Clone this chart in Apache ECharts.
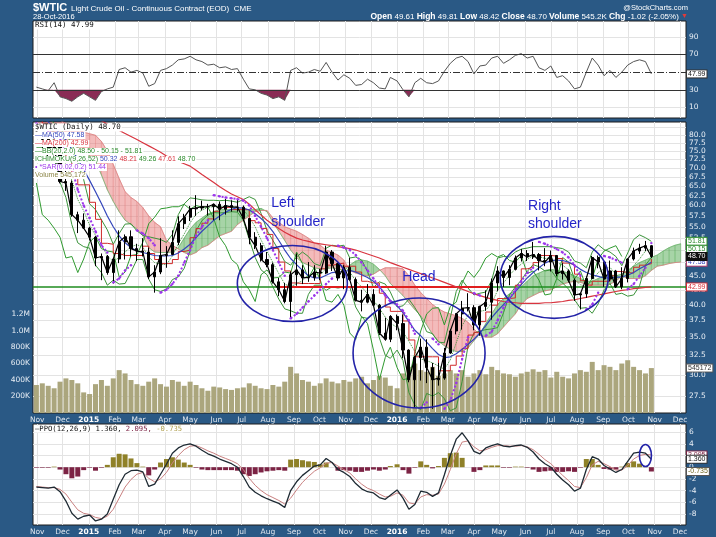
<!DOCTYPE html>
<html><head><meta charset="utf-8">
<script src="https://cdn.jsdelivr.net/npm/echarts@6.0.0/dist/echarts.min.js"></script>
<style>html,body{margin:0;padding:0;background:#2a5985;}#chart{width:716px;height:537px;}</style>
</head><body><div id="chart"></div>
<script>
// ---------- categories / ticks ----------
const weekDates = [
'2014-10-31','2014-11-07','2014-11-14','2014-11-21','2014-11-28','2014-12-05','2014-12-12','2014-12-19','2014-12-26',
'2015-01-02','2015-01-09','2015-01-16','2015-01-23','2015-01-30','2015-02-06','2015-02-13','2015-02-20','2015-02-27',
'2015-03-06','2015-03-13','2015-03-20','2015-03-27','2015-04-03','2015-04-10','2015-04-17','2015-04-24','2015-05-01',
'2015-05-08','2015-05-15','2015-05-22','2015-05-29','2015-06-05','2015-06-12','2015-06-19','2015-06-26','2015-07-03',
'2015-07-10','2015-07-17','2015-07-24','2015-07-31','2015-08-07','2015-08-14','2015-08-21','2015-08-28','2015-09-04',
'2015-09-11','2015-09-18','2015-09-25','2015-10-02','2015-10-09','2015-10-16','2015-10-23','2015-10-30','2015-11-06',
'2015-11-13','2015-11-20','2015-11-27','2015-12-04','2015-12-11','2015-12-18','2015-12-24','2016-01-01','2016-01-08',
'2016-01-15','2016-01-22','2016-01-29','2016-02-05','2016-02-12','2016-02-19','2016-02-26','2016-03-04','2016-03-11',
'2016-03-18','2016-03-25','2016-04-01','2016-04-08','2016-04-15','2016-04-22','2016-04-29','2016-05-06','2016-05-13',
'2016-05-20','2016-05-27','2016-06-03','2016-06-10','2016-06-17','2016-06-24','2016-07-01','2016-07-08','2016-07-15',
'2016-07-22','2016-07-29','2016-08-05','2016-08-12','2016-08-19','2016-08-26','2016-09-02','2016-09-09','2016-09-16',
'2016-09-23','2016-09-30','2016-10-07','2016-10-14','2016-10-21','2016-10-28',
'2016-11-04','2016-11-11','2016-11-18','2016-11-25','2016-12-02'];
const xRange = ['2014-10-27','2016-12-08'];
const monthTicks = ['2014-11-01','2014-12-01','2015-01-01','2015-02-01','2015-03-01','2015-04-01','2015-05-01','2015-06-01','2015-07-01','2015-08-01','2015-09-01','2015-10-01','2015-11-01','2015-12-01','2016-01-01','2016-02-01','2016-03-01','2016-04-01','2016-05-01','2016-06-01','2016-07-01','2016-08-01','2016-09-01','2016-10-01','2016-11-01','2016-12-01'];
const monthLabels = ['Nov','Dec','2015','Feb','Mar','Apr','May','Jun','Jul','Aug','Sep','Oct','Nov','Dec','2016','Feb','Mar','Apr','May','Jun','Jul','Aug','Sep','Oct','Nov','Dec'];
const priceTicks = [27.5,30,32.5,35,37.5,40,42.5,45,47.5,50,52.5,55,57.5,60,62.5,65,67.5,70,72.5,75,77.5,80,82.5];
const priceRange = [25.66, 84.46];
const volumeTicks = [200,400,600,800,1000,1200];
const volumeMax = 3530;
const rsiTicks = [10,30,70,90];
const ppoTicks = [-8,-6,-4,-2,0,2,4,6];
const ppoRange = [-9.9, 7.4];

// ---------- price (weekly OHLC) ----------
const opens = [81.1,80.5,78.7,75.8,76.5,66.2,65.8,57.8,56.5, 54.7,52.7,48.4,48.7,45.6,48.2,51.7,52.8,50.3, 49.8,49.6,44.8,45.7,48.9,49.1,51.6,55.7,57.2, 59.2,59.4,59.7,59.7,60.3,59.1,60.0,59.6,59.6, 56.9,52.7,50.9,48.1,47.1,43.9,42.5,40.5,45.2, 46.1,44.6,44.7,45.7,45.5,49.6,47.3,44.6,46.6, 44.3,40.7,40.4,41.7,39.9,35.6,34.7,38.1,37.0, 33.2,29.4,32.2,33.6,30.9,29.4,29.6,32.8,35.9, 38.5,39.4,39.5,36.8,39.7,40.4,43.7,45.9,44.7, 46.2,48.4,49.3,48.6,49.1,47.9,47.6,48.9,45.4, 45.9,44.2,41.6,41.8,44.5,48.5,47.6,44.4,45.9, 43.0,44.5,48.2,49.8,50.4,50.9];
const closes = [80.5,78.7,75.8,76.5,66.2,65.8,57.8,56.5,54.7, 52.7,48.4,48.7,45.6,48.2,51.7,52.8,50.3,49.8, 49.6,44.8,45.7,48.9,49.1,51.6,55.7,57.2,59.2, 59.4,59.7,59.7,60.3,59.1,60.0,59.6,59.6,56.9, 52.7,50.9,48.1,47.1,43.9,42.5,40.5,45.2,46.1, 44.6,44.7,45.7,45.5,49.6,47.3,44.6,46.6,44.3, 40.7,40.4,41.7,39.9,35.6,34.7,38.1,37.0,33.2, 29.4,32.2,33.6,30.9,29.4,29.6,32.8,35.9,38.5, 39.4,39.5,36.8,39.7,40.4,43.7,45.9,44.7,46.2, 48.4,49.3,48.6,49.1,47.9,47.6,48.9,45.4,45.9, 44.2,41.6,41.8,44.5,48.5,47.6,44.4,45.9,43.0, 44.5,48.2,49.8,50.4,50.9,48.7];
const lows = [79.5,75.8,73.3,73.7,65.7,63.7,57.3,53.6,54.5, 52.0,46.8,44.2,45.2,43.6,47.4,48.1,48.7,47.8, 48.7,44.4,42.0,45.3,46.5,49.0,51.0,54.5,56.3, 57.5,58.8,57.6,56.5,56.5,57.8,58.5,58.5,56.3, 51.2,50.2,47.7,46.6,43.6,41.4,40.2,37.8,43.2, 43.5,43.9,44.1,44.2,45.3,45.9,44.1,42.6,44.1, 40.5,38.9,40.2,39.7,35.3,34.5,34.3,36.0,32.1, 29.1,26.2,29.3,29.0,26.1,28.7,29.4,32.7,35.4, 36.1,38.9,36.0,35.2,39.0,37.6,42.3,43.0,43.3, 46.0,47.7,47.8,48.2,46.0,46.8,45.8,44.9,44.3, 43.8,40.6,39.2,41.1,44.4,46.4,43.0,44.0,42.8, 42.6,43.8,47.9,49.2,49.8,48.4];
const highs = [82.0,80.8,78.9,77.0,76.9,69.5,66.5,58.5,58.1, 55.0,53.0,49.3,49.0,48.3,54.2,53.3,54.2,51.3, 52.5,50.5,47.0,52.5,50.8,54.2,57.4,58.0,59.9, 62.6,61.2,60.4,60.5,61.0,61.6,61.3,61.5,60.0, 57.0,53.8,51.5,49.6,47.5,44.6,43.7,45.8,49.3, 47.0,47.6,47.0,46.3,50.9,50.0,47.5,47.0,48.4, 44.7,42.5,43.5,42.6,40.1,37.9,38.3,38.4,38.4, 33.3,32.4,34.8,34.7,31.5,31.5,33.5,36.2,38.6, 40.6,41.9,39.9,39.8,42.4,44.5,46.8,46.0,47.0, 48.9,50.2,50.0,51.7,49.4,50.4,49.9,49.0,47.4, 46.2,44.5,42.0,44.9,48.8,48.9,47.7,47.9,46.1, 46.6,48.3,50.5,51.3,51.9,51.0];
const volumeK = [340,360,330,300,380,420,400,360,250, 230,350,400,330,420,520,480,400,350, 330,380,420,350,320,400,380,330,380, 340,300,270,320,310,290,280,300,310, 360,330,300,290,340,320,380,560,480, 400,380,330,360,420,380,360,400,380, 420,440,360,400,450,430,330,300,480, 560,600,520,500,560,450,480,520,480, 520,440,480,520,470,560,520,480,470, 440,480,500,530,500,520,430,500,440, 420,480,520,500,620,520,580,560,520, 600,640,560,520,480,545];

// ---------- overlays ----------
const ma50 = [87.5,86,84.5,82.5,80.5,78.5,75.5,72.5,69.5, 66.5,63.5,60.5,57.5,55.0,53.0,51.5,50.5,49.8, 49.5,49.2,48.9,48.8,48.8,48.9,49.4,50.2,51.2, 52.6,54.0,55.2,56.5,57.5,58.4,59.1,59.5,59.4, 58.9,58.0,56.9,55.6,53.9,52.0,50.0,48.3,47.1, 46.0,45.0,44.6,44.6,45.1,45.6,45.7,45.8,46.0, 45.7,45.2,44.7,44.0,43.0,41.8,40.7,39.8,38.7, 37.3,36.0,35.2,34.3,33.4,32.6,32.2,32.3,32.7, 33.3,34.0,34.7,35.6,36.7,37.9,39.0,40.0,41.0, 42.2,43.4,44.6,45.6,46.5,47.4,47.9,48.0,47.9, 47.6,47.0,46.2,45.6,45.2,44.9,44.6,44.6,44.7, 44.8,45.1,45.6,46.3,46.9,47.58];
const ma200 = [95,94.5,93.8,93,92.2,91.3,90.3,89.3,88.2, 87.1,86.0,84.9,83.8,82.6,81.6,80.6,79.6,78.6, 77.6,76.6,75.6,74.6,73.5,72.7,71.9,71.2,70.5, 69.3,68.1,67.0,65.9,64.8,63.8,62.9,62.2,61.5, 60.3,59.0,57.7,56.5,55.5,54.6,53.8,53.1,52.5, 52.1,51.8,51.5,51.3,51.1,50.9,50.7,50.5,50.3, 50.0,49.6,49.2,48.8,48.4,47.9,47.5,47.0,46.6, 46.2,45.8,45.4,45.0,44.6,44.2,43.8,43.4,43.0, 42.6,42.2,41.8,41.5,41.2,40.9,40.7,40.5,40.4, 40.3,40.2,40.2,40.2,40.2,40.3,40.3,40.4,40.5, 40.7,40.8,41.0,41.2,41.4,41.6,41.8,42.0,42.2, 42.4,42.5,42.7,42.8,42.9,42.99];
const bbUpper = [90,88,86,84,82,80,77.5,71.5,66.7, 60.4,59,56.6,54.3,51.2,53.5,55.6,55.7,54.1, 53.1,52.8,52.5,52.2,51.6,53.3,57.8,60.4,61.9, 61.7,61.4,61.3,61.3,61.2,61.3,61.1,60.8,61.5, 62.2,61.5,58.1,54.2,52,49.9,47.7,47,48.6, 49.6,48.7,47.3,46.9,50.4,51,50.8,51,48.4, 48.6,48,45.8,42.9,43.9,43.5,42.1,39.6,39.8, 40.9,39.5,38,35.8,35.5,34.3,34.2,37.9,42.2, 44.2,42.8,41.6,41.9,42.1,44.2,48.4,48.7,48.6, 49.6,50.2,50.4,50.7,50.7,50.7,50.7,50.5,50.3, 49.6,47.8,47.4,46.5,49.6,51.1,50.1,49.6,48.7, 46.9,49.4,52.2,53.2,52.6,51.81];
const bbMid = [83,82,79.5,78.5,74,71,66.5,61.5,58.7, 55.4,53.1,51.1,48.8,47.7,48.5,49.6,50.7,51.1, 50.6,48.6,47.5,47.2,47.1,48.8,51.3,53.4,55.9, 57.9,58.9,59.5,59.8,59.7,59.8,59.8,59.6,59.0, 57.2,55.0,52.1,49.7,47.5,45.4,43.5,43.0,43.6, 44.1,45.2,45.3,45.1,46.4,47.0,46.8,47.0,45.7, 44.1,43.0,41.8,40.7,39.4,38.0,37.1,36.4,35.8, 34.4,33.0,32.0,31.8,31.5,31.1,30.7,31.9,34.2, 36.7,38.3,38.6,38.9,39.1,40.2,42.4,43.7,45.1, 46.3,47.2,48.1,48.9,48.7,48.3,48.4,47.5,47.0, 46.1,44.3,43.4,43.0,44.1,45.6,46.3,46.6,45.2, 44.4,45.4,46.9,48.2,49.8,50.15];
const bbLower = [76,76,73,73,66,62,55.5,51.5,50.7, 50.4,47,45.6,43.3,44.2,43.5,43.6,45.7,48.1, 48.1,44.4,42.5,42.2,42.6,44.3,44.8,46.4,49.9, 54.1,56.4,57.7,58.3,58.2,58.3,58.5,58.4,56.5, 52.2,48.5,46.1,45.2,43,40.9,39.3,39,38.6, 38.6,41.7,43.3,43.3,42.4,43,42.8,43,43, 39.6,38,37.8,38.5,34.9,32.5,32.1,33.2,31.8, 27.9,26.5,26,27.8,27.5,27.9,27.2,25.9,26.2, 29.2,33.8,35.6,35.9,36.1,36.2,36.4,38.7,41.6, 43,44.2,45.8,47.1,46.7,45.9,46.1,44.5,43.7, 42.6,40.8,39.4,39.5,38.6,40.1,42.5,43.6,41.7, 41.9,41.4,41.6,43.2,47,48.50];
const kijun = [85,84,81,78,74,72.3,68,65.3,65.3, 60.8,56.7,51.4,51.2,49.3,48.9,48.9,48.9,48.9, 50.8,49.3,48.1,47.3,47.3,48.1,49.7,50,52.6, 54.6,55.8,56.8,58.6,59.5,59.6,59,59,59, 56.4,55.9,54.6,53.3,50.3,47.6,45.9,43.7,43.6, 43.6,43.6,43.6,46.3,47,47.2,47.4,46.8,46.8, 45.7,44,43.7,43.7,41.9,39.6,38.9,38.9,37.4, 34.6,32.3,32.3,32.3,32.3,30.5,30.5,31.2,32.4, 33.4,35.3,35.7,37.3,38.8,39.9,41,41,41.1, 43.3,46.3,46.6,47.5,48.9,48.9,48.8,48.3,47.4, 47.1,45.3,44.1,43.3,44,44,44,45,45.8, 45.6,45.5,46.6,47,47.3,48.21];
const spanA = [84,83,82,81,80,78,77,76,75, 73.5,72,68,64,61,58.5,56.5,55.5,54.5, 53,50.5,49.6,49.5,49.5,49.6,50.5,52.5,54.5, 56,57,58,58.5,59,59,59,59,59, 59,59,59.3,58.5,56,54,52,50,48.5, 47.5,47,46.5,46.3,46.3,46.5,46.3,46.0,47.0, 47.8,48.0,47.8,47.2,46.2,45.0,43.6,42.5,41.5, 40.3,39.2,38.2,36.8,35.4,34.4,33.8,33.3,33.0, 33.0,33.5,34.5,35.5,37.0,38.5,40.0,41.0,41.8, 42.3,43.0,44.0,45.0,45.5,46.0,46.2,46.0,45.8, 45.5,45.0,44.5,44.0,44.0,44.5,45.0,45.2,45.0, 45.3,46.0,46.8,47.5,48.0,48.5, 49.0,49.8,50.5,51.0,51.3];
const spanB = [88,88,87,86,85,84,83,82,81, 80.5,80,78,75,71,67,63.5,62,61, 59.5,57.5,56,55,52,51,50.2,49.5,49, 49.5,50.5,51,52,53,53.5,54,55.5,56.5, 57.5,58.5,58.8,58.8,57,56,55,54.5,54, 53.3,52.5,51.5,51,50,49.5,49,48,46.0, 45.5,45.2,45.0,45.3,46.0,46.5,46.5,46.5,46.3, 45.0,43.3,42.0,41.0,40.0,39.3,38.8,38.5,38.2, 37.8,37.2,36.2,35.3,35.0,35.0,35.5,36.5,37.5, 38.5,40.0,41.0,41.5,42.0,42.3,42.5,43.0,43.5, 43.8,44.0,43.8,43.5,43.3,43.3,43.3,43.5,44.0, 45.0,44.5,44.5,44.5,45.0,46.0, 46.8,47.0,47.3,47.5,47.6];
const sar = [84,83,81.5,80,79,75,70,64,60, 57,54,51,49.5,43.8,44.5,46,47,54.2, 53.5,52.5,51,42.0,42.5,43.5,45,47.5,50, 53,55,56.5,62.6,62.3,62.0,61.8,61.6,61.2, 60,57.5,55,52.5,50,47.5,45,37.8,38.5, 39.5,40.5,41.5,42.5,43.5,44.5,50.9,50.5,50, 49,47.5,46,44.5,43,41.5,40.5,40,39, 37.5,35.5,26.2,26.8,34.8,34,26.1,27,29, 32,35,41.9,41.5,35.2,35.8,37.5,39.5,41, 42.5,44,45.5,46.5,51.7,51.3,50.8,50.2,49.5, 48.5,47,45,39.2,40,42,48.8,48.5,48, 47.5,42.6,43.5,45,46.5,51.44];
const necklineLevel = 43.0;
const redLineDates = ['2015-08-15','2016-04-20'];
const chikouShiftWeeks = 5;

// ---------- indicators ----------
const rsi = [33,31,29,38,22,20,17,22,26, 22,18,28,31,33,53,55,50,52, 49,34,37,52,54,58,64,65,68, 64,62,58,59,55,56,53,54,42, 31,30,26,24,20,22,18,52,55, 49,50,53,51,61,50,41,47,43, 35,36,42,38,32,31,44,40,30, 22,38,43,38,37,40,51,60,66, 68,62,48,57,58,66,68,60,64, 69,71,66,68,55,52,57,44,46, 40,31,33,50,66,58,46,52,44, 50,58,62,64,62,47.99];
const ppo = [-3.4,-3.5,-3.6,-3.4,-4.2,-5.8,-7.9,-8.9,-8.4, -8.2,-9.2,-8.9,-8.0,-5.5,-3.0,-1.2,-0.6,-0.5, -0.8,-3.3,-2.9,-1.2,0.5,2.4,3.3,3.8,4.0, 3.6,2.9,2.3,1.9,1.4,1.0,0.6,0.0,-1.6, -3.4,-4.3,-4.9,-5.4,-5.8,-6.2,-6.9,-4.0,-2.5, -1.4,-0.6,0.2,0.4,1.5,0.8,-0.4,-0.9,-1.6, -2.8,-3.7,-4.2,-4.4,-5.2,-5.5,-4.8,-3.9,-5.3, -7.2,-6.4,-4.1,-4.3,-5.0,-4.4,-1.3,2.0,4.8, 5.9,4.5,2.7,2.3,3.3,3.7,4.0,3.6,3.5, 3.7,3.8,3.4,2.6,1.4,0.6,0.0,-1.2,-2.2, -3.0,-4.1,-3.6,-0.4,1.8,1.4,0.3,-0.3,-0.9, -0.4,1.0,2.4,2.6,2.4,1.36];
const ppoSignal = [-3.3,-3.4,-3.5,-3.5,-3.8,-4.6,-6.0,-7.3,-7.9, -8.1,-8.6,-8.8,-8.4,-7.2,-5.3,-3.4,-2.1,-1.2, -0.9,-1.9,-2.5,-2.0,-0.9,0.7,2.0,3.0,3.6, 3.7,3.3,2.8,2.4,1.9,1.5,1.1,0.6,-0.4, -1.9,-3.1,-4.0,-4.7,-5.2,-5.7,-6.3,-5.3,-3.9, -2.6,-1.6,-0.7,-0.1,0.7,0.8,0.2,-0.4,-1.0, -2.0,-2.9,-3.6,-4.0,-4.6,-5.1,-5.0,-4.4,-4.8, -6.1,-6.3,-5.1,-4.7,-4.8,-4.6,-2.9,-0.4,2.3, 4.3,4.5,3.5,2.8,3.0,3.4,3.7,3.7,3.6, 3.6,3.7,3.5,3.0,2.2,1.3,0.6,-0.4,-1.4, -2.3,-3.3,-3.5,-1.8,0.4,1.0,0.6,0.1,-0.5, -0.5,0.3,1.4,2.0,2.2,2.095];
const ppoHist = [-0.1,-0.1,-0.1,0.1,-0.4,-1.2,-1.9,-1.6,-0.5, -0.1,-0.6,-0.1,0.4,1.7,2.3,2.2,1.5,0.7, 0.1,-1.4,-0.4,0.8,1.4,1.7,1.3,0.8,0.4, -0.1,-0.4,-0.5,-0.5,-0.5,-0.5,-0.5,-0.6,-1.2, -1.5,-1.2,-0.9,-0.7,-0.6,-0.5,-0.6,1.3,1.4, 1.2,1.0,0.9,0.5,0.8,0.0,-0.6,-0.5,-0.6, -0.8,-0.8,-0.6,-0.4,-0.6,-0.4,0.2,0.5,-0.5, -1.1,-0.1,1.0,0.4,-0.2,0.2,1.6,2.4,2.5, 1.6,0.0,-0.8,-0.5,0.3,0.3,0.3,-0.1,-0.1, 0.1,0.1,-0.1,-0.4,-0.8,-0.7,-0.6,-0.8,-0.8, -0.7,-0.8,-0.1,1.4,1.4,0.4,-0.3,-0.4,-0.4, 0.1,0.7,1.0,0.6,0.2,-0.735];

// right-axis value markers [axis, value, text, textColor, bg, border]
const axisMarkers = [
  ['price', 51.81, '51.81', '#2b8a2b', '#ffffff', '#2b8a2b'],
  ['price', 50.15, '50.15', '#2b8a2b', '#ffffff', '#2b8a2b'],
  ['price', 47.58, '47.58', '#3344bb', '#ffffff', '#b04070'],
  ['price', 48.70, '48.70', '#ffffff', '#111111', '#111111'],
  ['price', 42.99, '42.99', '#d62b35', '#ffffff', '#d62b35'],
  ['volume', 545.172, '545172', '#333333', '#ffffff', '#555555'],
  ['rsi', 47.99, '47.99', '#111111', '#ffffff', '#333333'],
  ['ppo', 2.095, '2.095', '#7c2344', '#ffffff', '#7c2344'],
  ['ppo', 1.36, '1.360', '#111111', '#ffffff', '#333333'],
  ['ppo', -0.735, '-0.735', '#6e6420', '#ffffff', '#555555']
];
// annotations anchored in data space: [panel, date, value, rx, ry]
const ellipses = [
  ['price', '2015-08-30', 43.6, 55, 38],
  ['price', '2016-01-27', 32.8, 66, 55],
  ['price', '2016-07-05', 44.7, 54, 41],
  ['ppo', '2016-10-21', 2.0, 6, 11]
];
const notes = [
  ['2015-08-05', 60.5, 'Left'], ['2015-08-05', 56.0, 'shoulder'],
  ['2016-01-07', 44.7, 'Head'],
  ['2016-06-04', 59.9, 'Right'], ['2016-06-04', 55.5, 'shoulder']
];

// ---------- build ----------
const L = Math.log;
const tsOf = s => { const p = s.split('-').map(Number); return new Date(p[0], p[1]-1, p[2]).getTime(); };
const D = weekDates.map(tsOf);
const tickTs = monthTicks.map(tsOf);
const labelByTs = {}; tickTs.forEach((t,i) => { labelByTs[t] = monthLabels[i]; });
const xMin = tsOf(xRange[0]), xMax = tsOf(xRange[1]);
const pairs = (arr, f) => arr.map((v,i) => [D[i], f ? f(v, i) : v]);
const FONT = 'DejaVu Sans';
const gridLine = {show: true, lineStyle: {color: '#e3e3e3', width: 1}};

function makeX(gi, showLabel) {
  return {
    type: 'value', gridIndex: gi, min: xMin, max: xMax, scale: true,
    axisLine: {show: false},
    axisTick: {show: false, customValues: tickTs},
    splitLine: gridLine,
    axisLabel: {
      show: showLabel, customValues: tickTs, margin: 3, hideOverlap: false,
      color: '#dfe6ee', fontSize: 7.5, fontFamily: FONT,
      formatter: v => { const l = labelByTs[v] || ''; return /^\d{4}$/.test(l) ? '{y|' + l + '}' : l; },
      rich: {y: {fontWeight: 'bold', color: '#ffffff', fontSize: 7.5, fontFamily: FONT}}
    }
  };
}
function makeY(gi, pos, min, max, ticks, fmt, split) {
  return {
    type: 'value', gridIndex: gi, position: pos, min, max, scale: true,
    axisLine: {show: false},
    axisTick: {show: false, customValues: ticks},
    splitLine: split ? gridLine : {show: false},
    axisLabel: {customValues: ticks, margin: 3, color: '#e8eef5', fontSize: 7.5, fontFamily: FONT, formatter: fmt}
  };
}
const lineS = (name, xi, yi, data, color, width, extra) => Object.assign({
  type: 'line', name, xAxisIndex: xi, yAxisIndex: yi, data, showSymbol: false, silent: true,
  lineStyle: {color, width}, itemStyle: {color}, connectNulls: false
}, extra || {});

// cloud segments: [t0, A0, B0, t1, A1, B1] in ln space
const cloudSegs = [];
for (let i = 0; i + 1 < spanA.length; i++) {
  cloudSegs.push([D[i], L(spanA[i]), L(spanB[i]), D[i+1], L(spanA[i+1]), L(spanB[i+1])]);
}
const chikou = closes.slice(chikouShiftWeeks).map((v,i) => [D[i], L(v)]);
const sarAbove = sar.map((v,i) => [D[i], v > closes[i] ? L(v) : '-']);
const sarBelow = sar.map((v,i) => [D[i], v > closes[i] ? '-' : L(v)]);
const candles = opens.map((o,i) => [D[i], L(o), L(closes[i]), L(lows[i]), L(highs[i])]);

function renderCloud(params, api) {
  const t0 = api.value(0), a0 = api.value(1), b0 = api.value(2);
  const t1 = api.value(3), a1 = api.value(4), b1 = api.value(5);
  const pA0 = api.coord([t0, a0]), pB0 = api.coord([t0, b0]);
  const pA1 = api.coord([t1, a1]), pB1 = api.coord([t1, b1]);
  const green = (a0 + a1) >= (b0 + b1);
  const cs = params.coordSys;
  return {
    type: 'polygon',
    shape: {points: [pA0, pA1, pB1, pB0]},
    style: {fill: green ? 'rgba(80,170,80,0.5)' : 'rgba(232,120,120,0.5)', stroke: green ? 'rgba(80,170,80,0.5)' : 'rgba(232,120,120,0.5)', lineWidth: 0.5},
    clipPath: {type: 'rect', shape: {x: cs.x, y: cs.y, width: cs.width, height: cs.height}}
  };
}

const chart = echarts.init(document.getElementById('chart'), null, {renderer: 'canvas'});
const option = {
  animation: false,
  backgroundColor: '#2a5985',
  textStyle: {fontFamily: FONT},
  grid: [
    {left: 33, right: 30, top: 21, height: 97, show: true, backgroundColor: '#ffffff', borderColor: '#1c1c1c', borderWidth: 1},
    {left: 33, right: 30, top: 122, height: 291, show: true, backgroundColor: '#ffffff', borderColor: '#1c1c1c', borderWidth: 1},
    {left: 33, right: 30, top: 424, height: 101, show: true, backgroundColor: '#ffffff', borderColor: '#1c1c1c', borderWidth: 1}
  ],
  xAxis: [makeX(0, false), makeX(1, true), makeX(2, true)],
  yAxis: [
    makeY(0, 'right', -2, 108, rsiTicks, v => String(v), true),
    makeY(1, 'right', L(priceRange[0]), L(priceRange[1]), priceTicks.map(L), v => Math.exp(v).toFixed(1), true),
    makeY(1, 'left', 0, volumeMax, volumeTicks, v => v >= 1000 ? (v/1000).toFixed(1) + 'M' : v + 'K', false),
    makeY(2, 'right', ppoRange[0], ppoRange[1], ppoTicks, v => String(v), true)
  ],
  series: [
    {type: 'bar', name: 'Volume', xAxisIndex: 1, yAxisIndex: 2, data: pairs(volumeK), barWidth: 5, itemStyle: {color: '#aba67d'}, silent: true, z: 1},
    {type: 'custom', name: 'cloud', xAxisIndex: 1, yAxisIndex: 1, data: cloudSegs, renderItem: renderCloud, silent: true, z: 2,
     encode: {x: [0, 3], y: [1, 2, 4, 5]}},
    lineS('spanA', 1, 1, pairs(spanA, L), '#6fb46f', 0.8, {z: 3}),
    lineS('spanB', 1, 1, pairs(spanB, L), '#d98080', 0.8, {z: 3}),
    lineS('chikou', 1, 1, chikou, '#2f9a2f', 1, {z: 4}),
    lineS('bbUpper', 1, 1, pairs(bbUpper, L), '#3a933a', 1, {z: 4}),
    lineS('bbLower', 1, 1, pairs(bbLower, L), '#3a933a', 1, {z: 4}),
    lineS('bbMid', 1, 1, pairs(bbMid, L), '#3a933a', 1, {z: 4, lineStyle: {color: '#3a933a', width: 1, type: 'dotted'}}),
    lineS('ma200', 1, 1, pairs(ma200, L), '#d8343f', 1.2, {z: 5}),
    lineS('kijun', 1, 1, pairs(kijun, L), '#cf2a2a', 1, {z: 5, step: 'end'}),
    lineS('ma50', 1, 1, pairs(ma50, L), '#3445bb', 1.2, {z: 5}),
    {type: 'candlestick', name: 'price', xAxisIndex: 1, yAxisIndex: 1, data: candles, silent: true, z: 6,
     dimensions: ['t','open','close','lowest','highest'], encode: {x: 't', y: ['open','close','lowest','highest']},
     barWidth: 2.6, itemStyle: {color: '#000', color0: '#000', borderColor: '#000', borderColor0: '#000', borderWidth: 1}},
    lineS('close', 1, 1, pairs(closes, L), '#000000', 1.2, {z: 7,
      markLine: {silent: true, symbol: 'none', label: {show: false},
        data: [
          {yAxis: L(necklineLevel), lineStyle: {color: '#1f8c1f', width: 1.5, type: 'solid'}},
          [{coord: [tsOf(redLineDates[0]), L(necklineLevel)], lineStyle: {color: '#e01e1e', width: 2, type: 'solid'}},
           {coord: [tsOf(redLineDates[1]), L(necklineLevel)]}]
        ]}}),
    lineS('sarAbove', 1, 1, sarAbove, '#9b36ea', 2, {z: 8, showSymbol: true, symbol: 'circle', symbolSize: 2.4, lineStyle: {color: '#9b36ea', width: 2, type: 'dotted'}}),
    lineS('sarBelow', 1, 1, sarBelow, '#9b36ea', 2, {z: 8, showSymbol: true, symbol: 'circle', symbolSize: 2.4, lineStyle: {color: '#9b36ea', width: 2, type: 'dotted'}}),
    // RSI
    lineS('rsiOversold', 0, 0, pairs(rsi, v => Math.min(v, 30)), 'rgba(0,0,0,0)', 0, {lineStyle: {opacity: 0}, areaStyle: {origin: 30, color: '#8a2c55', opacity: 1}, z: 2}),
    lineS('rsi', 0, 0, pairs(rsi), '#555555', 1, {z: 4,
      markLine: {silent: true, symbol: 'none', label: {show: false},
        data: [
          {yAxis: 70, lineStyle: {color: '#333', width: 1, type: 'solid'}},
          {yAxis: 30, lineStyle: {color: '#333', width: 1, type: 'solid'}},
          {yAxis: 50, lineStyle: {color: '#333', width: 1, type: [7, 2, 1, 2]}}
        ]}}),
    // PPO
    {type: 'bar', name: 'ppoHist', xAxisIndex: 2, yAxisIndex: 3, barWidth: 5, silent: true, z: 2,
     data: ppoHist.map((v,i) => ({value: [D[i], v], itemStyle: {color: v >= 0 ? '#8f8128' : '#7c2344'}}))},
    lineS('ppoSignal', 2, 3, pairs(ppoSignal), '#c98080', 1, {z: 3}),
    lineS('ppo', 2, 3, pairs(ppo), '#1e2a33', 1.3, {z: 4})
  ]
};
chart.setOption(option);

// ---------- graphics (text, markers, annotations) ----------
const axisIdx = {rsi: [0, 0], price: [1, 1], volume: [1, 2], ppo: [2, 3]};
const toVal = (panel, v) => (panel === 'price' ? L(v) : v);
const g = [];
const txt = (x, y, text, style, z) => g.push({type: 'text', x, y, z: z || 100, silent: true,
  style: Object.assign({text, fill: '#ffffff', align: 'left', verticalAlign: 'middle', font: '8px "Liberation Sans"'}, style)});

// header
txt(33, 8, '$WTIC', {font: 'bold 11px "Liberation Sans"'});
txt(71, 8.5, 'Light Crude Oil - Continuous Contract (EOD)  CME', {font: '8px "Liberation Sans"'});
txt(33, 16.5, '28-Oct-2016', {font: '7.5px "Liberation Sans"'});
txt(688, 7.5, '@StockCharts.com', {align: 'right', font: '7.5px "Liberation Sans"'});
txt(688, 16.5, '{b|Open} 49.61 {b|High} 49.81 {b|Low} 48.42 {b|Close} 48.70 {b|Volume} 545.2K {b|Chg} -1.02 (-2.05%) {r|▼}',
  {align: 'right', font: '8px "Liberation Sans"', rich: {b: {font: 'bold 8.5px "Liberation Sans"', fill: '#ffffff'}, r: {fill: '#e03a3a', font: '7px "Liberation Sans"'}}});

// panel legends
const legendBox = {backgroundColor: '#ffffff', padding: [0, 1]};
txt(34, 25.5, 'RSI(14) 47.99', Object.assign({fill: '#111', font: '7.5px "DejaVu Sans Mono"'}, legendBox));
txt(34, 127.5, '$WTIC (Daily) 48.70', Object.assign({fill: '#111', font: '7.5px "DejaVu Sans Mono"'}, legendBox));
txt(34, 135.5, '—MA(50) 47.58', Object.assign({fill: '#3445bb', font: '7px "Liberation Sans"'}, legendBox));
txt(34, 143.5, '—MA(200) 42.99', Object.assign({fill: '#d8343f', font: '7px "Liberation Sans"'}, legendBox));
txt(34, 151.5, '—BB(20,2.0) 48.50 - 50.15 - 51.81', Object.assign({fill: '#2b8a2b', font: '7px "Liberation Sans"'}, legendBox));
txt(34, 159.5, '{g|ICHIMOKU(9,26,52)} {b|50.32} {r|48.21} {g|49.26} {r|47.61} {g|48.70}', Object.assign({fill: '#2b8a2b', font: '7px "Liberation Sans"',
  rich: {g: {fill: '#2b8a2b', font: '7px "Liberation Sans"'}, b: {fill: '#3445bb', font: '7px "Liberation Sans"'}, r: {fill: '#d8343f', font: '7px "Liberation Sans"'}}}, legendBox));
txt(34, 167.5, '• *SAR(0.02,0.2) 51.44', Object.assign({fill: '#9b36ea', font: '7px "Liberation Sans"'}, legendBox));
txt(34, 175.5, 'Volume 545,172', Object.assign({fill: '#8a8445', font: '7px "Liberation Sans"'}, legendBox));
txt(34, 429, '—PPO(12,26,9) 1.360, {m|2.095,} {o|-0.735}', Object.assign({fill: '#111', font: '7.2px "DejaVu Sans Mono"',
  rich: {m: {fill: '#7c2344', font: '7.2px "DejaVu Sans Mono"'}, o: {fill: '#b0a050', font: '7.2px "DejaVu Sans Mono"'}}}, legendBox));

// right-side value markers
axisMarkers.forEach(m => {
  const y = chart.convertToPixel({yAxisIndex: axisIdx[m[0]][1]}, toVal(m[0], m[1]));
  txt(687, y, m[2], {fill: m[3], backgroundColor: m[4], borderColor: m[5], borderWidth: 1, padding: [0, 1], font: '7px "Liberation Sans"'}, 110);
});

// ellipses + notes
ellipses.forEach(e => {
  const ax = axisIdx[e[0]];
  const p = chart.convertToPixel({xAxisIndex: ax[0], yAxisIndex: ax[1]}, [tsOf(e[1]), toVal(e[0], e[2])]);
  g.push({type: 'ellipse', z: 105, silent: true, shape: {cx: p[0], cy: p[1], rx: e[3], ry: e[4]},
    style: {fill: 'none', stroke: '#2323a8', lineWidth: 1.6}});
});
notes.forEach(n => {
  const p = chart.convertToPixel({xAxisIndex: 1, yAxisIndex: 1}, [tsOf(n[0]), L(n[1])]);
  txt(p[0], p[1], n[2], {fill: '#2525c8', font: '14px "Liberation Sans"'}, 106);
});

chart.setOption({graphic: g});
</script></body></html>
